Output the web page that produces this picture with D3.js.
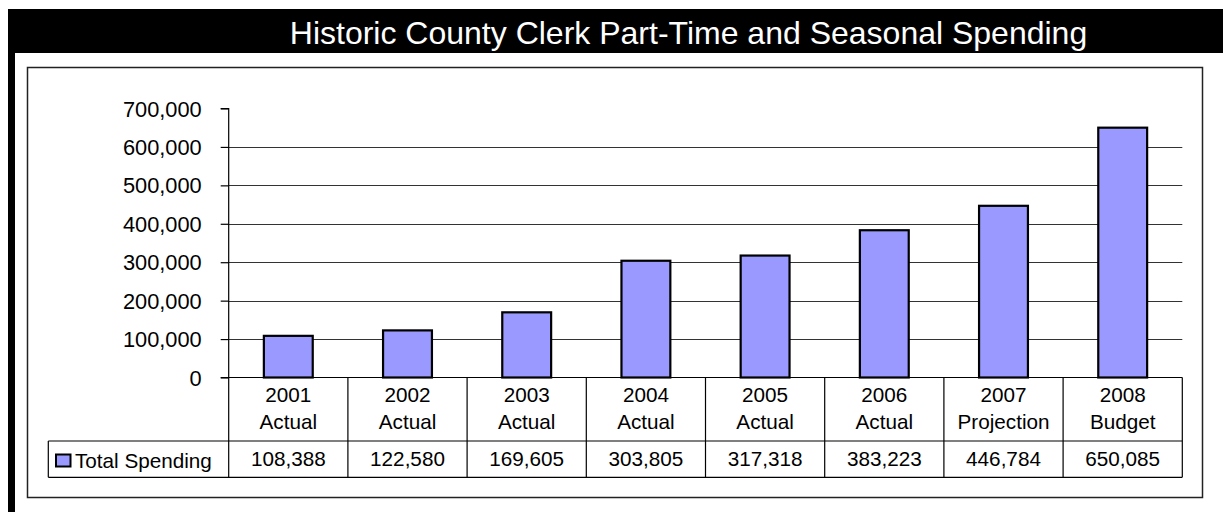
<!DOCTYPE html>
<html>
<head>
<meta charset="utf-8">
<script src="https://cdn.jsdelivr.net/npm/d3@7"></script>
<style>
  html, body { margin: 0; padding: 0; background: #fff; }
  svg { display: block; font-family: "Liberation Sans", Arial, sans-serif; }
</style>
</head>
<body>
<svg id="chart" width="1223" height="512"></svg>
<script>
// Spending by year (dollars)
const years = ["2001", "2002", "2003", "2004", "2005", "2006", "2007", "2008"];
const stages = ["Actual", "Actual", "Actual", "Actual", "Actual", "Actual", "Projection", "Budget"];
const spending = [108388, 122580, 169605, 303805, 317318, 383223, 446784, 650085];
const yTicks = [0, 100000, 200000, 300000, 400000, 500000, 600000, 700000];
const seriesName = "Total Spending";
const title = "Historic County Clerk Part-Time and Seasonal Spending";

const svg = d3.select("#chart");
const fmt = d3.format(",");
const tableFont = 20.7;

// Black header band and left edge strip
svg.append("rect").attr("x", 8).attr("y", 9).attr("width", 1215).attr("height", 44).attr("fill", "#000");
svg.append("rect").attr("x", 8).attr("y", 9).attr("width", 7).attr("height", 503).attr("fill", "#000");
svg.append("text")
  .attr("x", 688.5).attr("y", 43.5)
  .attr("text-anchor", "middle")
  .attr("fill", "#fff")
  .attr("font-size", 32)
  .text(title);

// Chart frame
svg.append("rect")
  .attr("x", 27.5).attr("y", 67.5).attr("width", 1175).attr("height", 430)
  .attr("fill", "#fff").attr("stroke", "#222").attr("stroke-width", 1.5);

// Scales
const left = 228.7, right = 1182.3;
const x = d3.scaleBand().domain(years).range([left, right]).padding(0);
const y = d3.scaleLinear().domain([0, 700000]).range([377.5, 108.5]);

const g = svg.append("g");

// Horizontal gridlines
g.selectAll("line.grid")
  .data(yTicks.filter(t => t > 0 && t < 700000))
  .join("line")
  .attr("x1", left).attr("x2", right)
  .attr("y1", d => Math.round(y(d)) + 0.5).attr("y2", d => Math.round(y(d)) + 0.5)
  .attr("stroke", "#333").attr("stroke-width", 1);

// Y axis
const yAxis = d3.axisLeft(y).tickValues(yTicks).tickFormat(fmt).tickSize(8).tickPadding(19);
const ya = g.append("g").attr("transform", `translate(${left},0)`).call(yAxis);
ya.select(".domain").attr("stroke", "#000").attr("stroke-width", 1.2).attr("d", `M-8,${y(700000)}H0V${y(0)}`);
ya.selectAll(".tick line").attr("stroke", "#000").attr("stroke-width", 1.2);
ya.selectAll(".tick text")
  .attr("font-size", 21.8).attr("fill", "#000")
  .attr("font-family", "Liberation Sans, Arial, sans-serif")
  .attr("dy", "0.35em");

// Bars
const barW = x.bandwidth() * 0.41;
g.selectAll("rect.bar")
  .data(spending)
  .join("rect")
  .attr("x", (d, i) => x(years[i]) + (x.bandwidth() - barW) / 2)
  .attr("y", d => y(d))
  .attr("width", barW)
  .attr("height", d => y(0) - y(d))
  .attr("fill", "#9999ff")
  .attr("stroke", "#000").attr("stroke-width", 2.2);

// X axis baseline
g.append("line")
  .attr("x1", left - 8).attr("x2", right)
  .attr("y1", y(0)).attr("y2", y(0))
  .attr("stroke", "#000").attr("stroke-width", 1.2);

// Data table beneath the axis
const rowTop = 441, rowBot = 477.3, tableLeft = 48.3;
const boundaries = years.map(c => x(c)).concat([right]);
g.selectAll("line.col")
  .data(boundaries)
  .join("line")
  .attr("x1", d => d).attr("x2", d => d)
  .attr("y1", y(0)).attr("y2", rowBot)
  .attr("stroke", "#000").attr("stroke-width", 1.2);
[rowTop, rowBot].forEach(yy => {
  g.append("line")
    .attr("x1", tableLeft).attr("x2", right)
    .attr("y1", yy).attr("y2", yy)
    .attr("stroke", "#000").attr("stroke-width", 1.2);
});
g.append("line")
  .attr("x1", tableLeft).attr("x2", tableLeft)
  .attr("y1", rowTop).attr("y2", rowBot)
  .attr("stroke", "#000").attr("stroke-width", 1.2);

// Category labels (two lines)
const cat = g.selectAll("text.cat")
  .data(years)
  .join("text")
  .attr("text-anchor", "middle")
  .attr("font-size", tableFont)
  .attr("fill", "#000");
cat.append("tspan").attr("x", d => x(d) + x.bandwidth() / 2).attr("y", 401.7).text(d => d);
cat.append("tspan").attr("x", d => x(d) + x.bandwidth() / 2).attr("y", 429).text((d, i) => stages[i]);

// Value row
g.selectAll("text.val")
  .data(spending)
  .join("text")
  .attr("x", (d, i) => x(years[i]) + x.bandwidth() / 2)
  .attr("y", 466)
  .attr("text-anchor", "middle")
  .attr("font-size", tableFont)
  .attr("fill", "#000")
  .text(d => fmt(d));

// Legend key in the table
g.append("rect")
  .attr("x", 56).attr("y", 454.5).attr("width", 14.5).attr("height", 12)
  .attr("fill", "#9999ff").attr("stroke", "#000").attr("stroke-width", 2);
g.append("text")
  .attr("x", 75).attr("y", 467.5)
  .attr("font-size", tableFont)
  .attr("fill", "#000")
  .text(seriesName);
</script>
</body>
</html>
